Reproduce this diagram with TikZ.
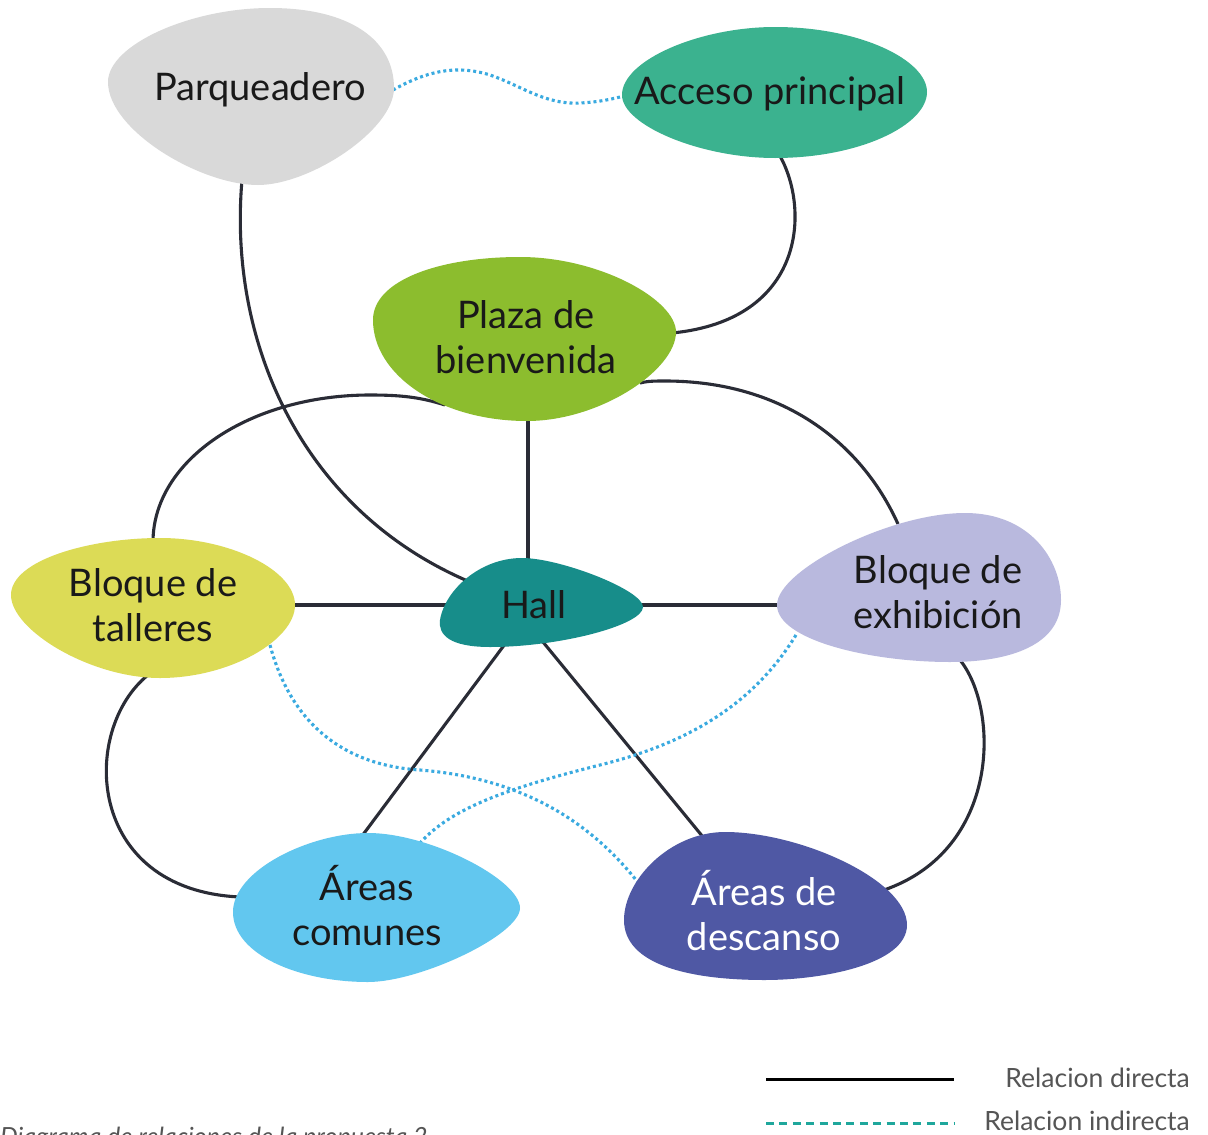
\documentclass[tikz,border=0pt]{standalone}
\usepackage{fontspec}
\setmainfont{Lato}
\definecolor{cParq}{HTML}{D9D9D9}
\definecolor{cAcc}{HTML}{3BB28F}
\definecolor{cPlaza}{HTML}{8CBD2E}
\definecolor{cHall}{HTML}{178D8A}
\definecolor{cTall}{HTML}{DCDB56}
\definecolor{cExh}{HTML}{B9B9DE}
\definecolor{cCom}{HTML}{62C7EF}
\definecolor{cDesc}{HTML}{4F58A4}
\definecolor{cLine}{HTML}{2A2C36}
\definecolor{cDot}{HTML}{3AAAE0}
\definecolor{cTeal}{HTML}{1FA79C}
\definecolor{cLeg}{HTML}{555555}
\tikzset{
  direct/.style={draw=cLine, line width=3.1pt},
  indirect/.style={draw=cDot, line width=3.1pt, dash pattern=on 3pt off 3pt},
  lbl/.style={font=\fontsize{38}{45}\selectfont, inner sep=0pt, align=center, text=black!90},
  leg/.style={font=\fontsize{26.5}{30}\selectfont, inner sep=0pt, text=cLeg, anchor=base east}
}
\begin{document}
\begin{tikzpicture}[x=1pt,y=-1pt]
\useasboundingbox (0,0) rectangle (1208,1135);
\fill[white] (0,0) rectangle (1208,1135);
% anchor coordinates for connectors
\coordinate (pq-s) at (242,180);
\coordinate (ac-s) at (780,156);
\coordinate (pl-e) at (672,333);
\coordinate (pl-s) at (528,416);
\coordinate (pl-sw) at (445,405);
\coordinate (pl-se) at (640,383);
\coordinate (ha-n) at (528,562);
\coordinate (ha-nw) at (470,582);
\coordinate (ha-w) at (446,605);
\coordinate (ha-e) at (640,605);
\coordinate (ha-sw) at (505,644);
\coordinate (ha-se) at (543,642);
\coordinate (ta-n) at (153,542);
\coordinate (ta-e) at (292,605);
\coordinate (ta-s) at (148,675);
\coordinate (ta-se) at (270,645);
\coordinate (ex-n) at (898,524);
\coordinate (ex-w) at (780,605);
\coordinate (ex-s) at (960,660);
\coordinate (ex-sw) at (796,635);
\coordinate (co-n) at (362,836);
\coordinate (co-w) at (240,897);
\coordinate (co-ne) at (420,843);
\coordinate (de-n) at (703,837);
\coordinate (de-e) at (884,890);
\coordinate (de-w) at (640,885);
\coordinate (pq-e) at (393,90);
\coordinate (ac-w) at (624,96);
% direct relations
\draw[direct] (pq-s) .. controls (228,340) and (300,510) .. (ha-nw);
\draw[direct] (ac-s) .. controls (810,210) and (805,320) .. (pl-e);
\draw[direct] (pl-s) -- (ha-n);
\draw[direct] (pl-sw) .. controls (420,397) and (400,395) .. (370,395) .. controls (250,395) and (153,460) .. (ta-n);
\draw[direct] (pl-se) .. controls (648,381) and (655,381) .. (665,381) .. controls (780,381) and (860,440) .. (ex-n);
\draw[direct] (ta-e) -- (ha-w);
\draw[direct] (ha-e) -- (ex-w);
\draw[direct] (ha-sw) -- (co-n);
\draw[direct] (ha-se) -- (de-n);
\draw[direct] (ta-s) .. controls (80,730) and (85,890) .. (co-w);
\draw[direct] (ex-s) .. controls (1000,710) and (1000,850) .. (de-e);
% indirect relations
\draw[indirect] (pq-e) .. controls (425,72) and (455,64) .. (490,75) .. controls (520,85) and (545,105) .. (580,103) .. controls (600,102) and (612,99) .. (ac-w);
\draw[indirect] (ta-se) .. controls (290,720) and (340,765) .. (420,770) .. controls (520,778) and (590,820) .. (de-w);
\draw[indirect] (ex-sw) .. controls (750,710) and (680,745) .. (600,765) .. controls (500,790) and (450,810) .. (co-ne);
% blobs
\fill[cParq] (270,8) .. controls (350,8) and (394,40) .. (394,88) .. controls (394,130) and (310,185) .. (258,185) .. controls (200,185) and (108,130) .. (108,82) .. controls (108,45) and (190,8) .. (270,8) -- cycle;
\fill[cAcc] (775,27) .. controls (860,27) and (927,60) .. (927,92) .. controls (927,125) and (860,158) .. (775,158) .. controls (700,158) and (622,125) .. (622,95) .. controls (622,60) and (700,27) .. (775,27) -- cycle;
\fill[cPlaza] (520,257) .. controls (600,257) and (676,300) .. (676,332) .. controls (676,370) and (600,421) .. (527,421) .. controls (440,421) and (373,375) .. (373,320) .. controls (373,280) and (440,257) .. (520,257) -- cycle;
\fill[cHall] (522,558) .. controls (560,558) and (643,590) .. (643,607) .. controls (643,625) and (560,647) .. (490,647) .. controls (450,647) and (438,635) .. (440,620) .. controls (445,590) and (480,558) .. (522,558) -- cycle;
\fill[cTall] (160,538) .. controls (230,538) and (295,570) .. (295,605) .. controls (295,640) and (230,678) .. (160,678) .. controls (90,678) and (11,630) .. (11,595) .. controls (11,560) and (90,538) .. (160,538) -- cycle;
\fill[cExh] (965,513) .. controls (1030,513) and (1061,560) .. (1061,600) .. controls (1061,645) and (1010,662) .. (950,662) .. controls (870,662) and (777,640) .. (777,605) .. controls (777,570) and (890,513) .. (965,513) -- cycle;
\fill[cCom] (368,833) .. controls (430,833) and (520,880) .. (520,908) .. controls (520,935) and (420,982) .. (368,982) .. controls (300,982) and (233,955) .. (233,912) .. controls (233,870) and (310,833) .. (368,833) -- cycle;
\fill[cDesc] (725,832) .. controls (800,832) and (907,880) .. (907,925) .. controls (907,965) and (820,980) .. (765,980) .. controls (690,980) and (624,965) .. (624,920) .. controls (624,880) and (670,832) .. (725,832) -- cycle;
% labels
\node[lbl, anchor=base] (tParq) at (260,100) {Parqueadero};
\node[lbl, anchor=base] (tAcc) at (770,104) {Acceso principal};
\node[lbl] (tPlaza) at (526,337) {Plaza de\\bienvenida};
\node[lbl, anchor=base] (tHall) at (534,618) {Hall};
\node[lbl] (tTall) at (153,605) {Bloque de\\talleres};
\node[lbl] (tExh) at (938,592) {Bloque de\\exhibición};
\node[lbl] (tCom) at (367,906) {Áreas\\comunes};
\node[lbl, text=white] (tDesc) at (764,911) {Áreas de\\descanso};
% legend
\coordinate (l1a) at (766,1079);
\coordinate (l1b) at (954,1079);
\coordinate (l2a) at (766,1123);
\coordinate (l2b) at (954,1123);
\draw[draw=black, line width=3pt] (l1a) -- (l1b);
\draw[draw=cTeal, line width=3pt, dash pattern=on 8pt off 5.4pt] (l2a) -- (l2b);
\node[leg] (legD) at (1190,1087) {Relacion directa};
\node[leg] (legI) at (1190,1130) {Relacion indirecta};
\node[font=\fontsize{25}{30}\selectfont\itshape, text=cLeg, inner sep=0pt, anchor=base west] (cap) at (0,1145) {Diagrama de relaciones de la propuesta 2};
\end{tikzpicture}
\end{document}
